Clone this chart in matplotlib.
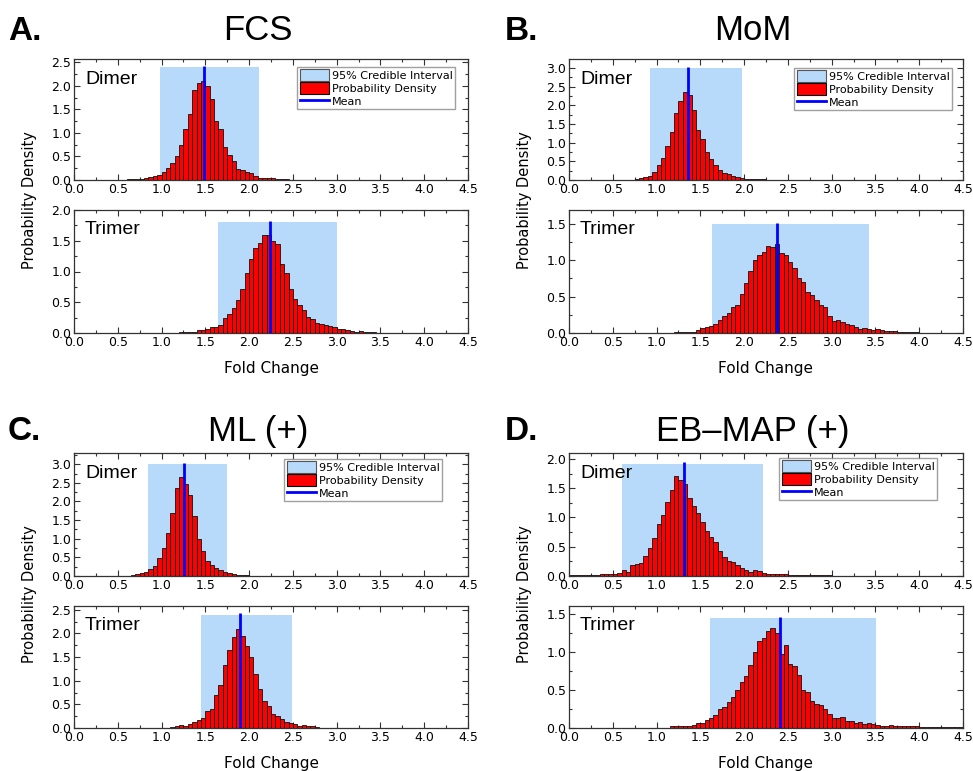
import numpy as np
import matplotlib
matplotlib.use("Agg")
import matplotlib.pyplot as plt
from matplotlib.patches import Patch
from matplotlib.lines import Line2D
from matplotlib.ticker import MultipleLocator, FormatStrFormatter

BIN_WIDTH = 0.05

# ---------------- data (bin start, densities per 0.05 bin) ----------------
fcs_dimer_start = 0.45
fcs_dimer = [0.005, 0.01, 0.01, 0.015, 0.02, 0.02, 0.03, 0.04, 0.06, 0.08, 0.11,
             0.17, 0.25, 0.36, 0.51, 0.75, 1.08, 1.41, 1.92, 2.05, 2.10,
             2.00, 1.72, 1.26, 1.09, 0.71, 0.53, 0.40, 0.23, 0.21, 0.16,
             0.14, 0.09, 0.05, 0.05, 0.04, 0.04, 0.03, 0.02, 0.015, 0.01,
             0.01, 0.005, 0.005, 0.003]
fcs_trimer_start = 1.2
fcs_trimer = [0.01, 0.01, 0.015, 0.02, 0.05, 0.05, 0.07, 0.09, 0.10, 0.13,
              0.24, 0.31, 0.40, 0.54, 0.72, 0.97, 1.20, 1.38, 1.47, 1.60,
              1.60, 1.49, 1.45, 1.12, 0.98, 0.72, 0.56, 0.45, 0.38, 0.26,
              0.23, 0.17, 0.15, 0.13, 0.12, 0.09, 0.07, 0.06, 0.05, 0.04,
              0.02, 0.03, 0.015, 0.015, 0.01, 0.005, 0.005, 0.005, 0.005,
              0.005, 0.005, 0.005]

mom_dimer_start = 0.5
mom_dimer = [0.01, 0.01, 0.01, 0.01, 0.01, 0.03, 0.05, 0.07, 0.11, 0.22,
             0.41, 0.60, 0.92, 1.28, 1.80, 2.12, 2.36, 2.27, 1.87, 1.35,
             1.10, 0.75, 0.57, 0.40, 0.28, 0.20, 0.16, 0.11, 0.08, 0.06,
             0.04, 0.03, 0.02, 0.02, 0.03, 0.01, 0.01, 0.01]
mom_trimer_start = 1.0
mom_trimer = [0.005, 0.005, 0.005, 0.005, 0.01, 0.01, 0.02, 0.02, 0.02, 0.04,
              0.07, 0.08, 0.09, 0.12, 0.18, 0.23, 0.28, 0.36, 0.38, 0.53,
              0.69, 0.85, 1.00, 1.07, 1.11, 1.20, 1.18, 1.22, 1.10, 1.07,
              0.97, 0.89, 0.75, 0.70, 0.56, 0.52, 0.45, 0.38, 0.36, 0.23,
              0.17, 0.18, 0.15, 0.12, 0.11, 0.08, 0.06, 0.07, 0.05, 0.04,
              0.05, 0.04, 0.03, 0.03, 0.03, 0.02, 0.02, 0.01, 0.01, 0.01,
              0.005, 0.005, 0.005, 0.005, 0.005, 0.005]

ml_dimer_start = 0.6
ml_dimer = [0.01, 0.03, 0.05, 0.08, 0.12, 0.18, 0.28, 0.47, 0.75, 1.15,
            1.70, 2.35, 2.65, 2.48, 2.17, 1.62, 0.98, 0.66, 0.40, 0.30,
            0.21, 0.17, 0.12, 0.08, 0.06, 0.04, 0.03, 0.02, 0.01, 0.01]
ml_trimer_start = 1.05
ml_trimer = [0.01, 0.02, 0.04, 0.06, 0.05, 0.08, 0.12, 0.17, 0.22, 0.37,
             0.41, 0.70, 0.91, 1.33, 1.64, 1.93, 2.09, 1.94, 1.73, 1.51,
             1.15, 0.83, 0.58, 0.46, 0.30, 0.25, 0.18, 0.12, 0.11, 0.08,
             0.05, 0.06, 0.05, 0.04, 0.02, 0.01, 0.01, 0.005, 0.005, 0.005,
             0.005]

eb_dimer_start = 0.0
eb_dimer = [0.01, 0.01, 0.01, 0.01, 0.01, 0.01, 0.02, 0.03, 0.03, 0.03,
            0.04, 0.05, 0.10, 0.07, 0.18, 0.20, 0.23, 0.35, 0.47, 0.65,
            0.88, 1.05, 1.27, 1.47, 1.70, 1.64, 1.57, 1.33, 1.20, 1.07,
            0.92, 0.76, 0.67, 0.58, 0.43, 0.33, 0.25, 0.24, 0.19, 0.13,
            0.10, 0.07, 0.10, 0.09, 0.05, 0.04, 0.04, 0.03, 0.03, 0.03,
            0.02, 0.02, 0.01, 0.01, 0.01, 0.01, 0.01, 0.01, 0.01, 0.01,
            0.005, 0.005, 0.005, 0.005]
eb_trimer_start = 1.0
eb_trimer = [0.005, 0.005, 0.005, 0.02, 0.02, 0.02, 0.03, 0.03, 0.04, 0.07,
             0.06, 0.10, 0.13, 0.17, 0.25, 0.27, 0.34, 0.41, 0.50, 0.60,
             0.68, 0.82, 1.00, 1.14, 1.18, 1.27, 1.31, 1.25, 0.97, 1.09,
             0.84, 0.81, 0.70, 0.50, 0.47, 0.36, 0.31, 0.30, 0.25, 0.19,
             0.13, 0.13, 0.14, 0.09, 0.09, 0.07, 0.08, 0.05, 0.06, 0.05,
             0.04, 0.03, 0.02, 0.04, 0.02, 0.02, 0.03, 0.02, 0.02, 0.02,
             0.015, 0.015, 0.015, 0.015, 0.01, 0.01, 0.01, 0.01, 0.01, 0.01]

# means, 95% credible intervals (lo, hi, drawn height)
means = {"fcs_d": 1.48, "fcs_t": 2.24, "mom_d": 1.355, "mom_t": 2.37,
         "ml_d": 1.255, "ml_t": 1.90, "eb_d": 1.31, "eb_t": 2.41}
ci_lo = {"fcs_d": 0.98, "fcs_t": 1.64, "mom_d": 0.92, "mom_t": 1.63,
         "ml_d": 0.84, "ml_t": 1.45, "eb_d": 0.61, "eb_t": 1.61}
ci_hi = {"fcs_d": 2.11, "fcs_t": 3.00, "mom_d": 1.98, "mom_t": 3.43,
         "ml_d": 1.75, "ml_t": 2.49, "eb_d": 2.22, "eb_t": 3.51}
ci_top = {"fcs_d": 2.40, "fcs_t": 1.80, "mom_d": 3.00, "mom_t": 1.50,
          "ml_d": 3.00, "ml_t": 2.40, "eb_d": 1.92, "eb_t": 1.44}
ymax = {"fcs_d": 2.57, "fcs_t": 2.0, "mom_d": 3.24, "mom_t": 1.69,
        "ml_d": 3.30, "ml_t": 2.58, "eb_d": 2.10, "eb_t": 1.60}
ytop_tick = {"fcs_d": 2.5, "fcs_t": 2.0, "mom_d": 3.0, "mom_t": 1.5,
             "ml_d": 3.0, "ml_t": 2.5, "eb_d": 2.0, "eb_t": 1.5}

titles = ["FCS", "MoM", "ML (+)", "EB\u2013MAP (+)"]
letters = ["A.", "B.", "C.", "D."]
keys = ["fcs", "mom", "ml", "eb"]
hist = {"fcs_d": (fcs_dimer_start, fcs_dimer), "fcs_t": (fcs_trimer_start, fcs_trimer),
        "mom_d": (mom_dimer_start, mom_dimer), "mom_t": (mom_trimer_start, mom_trimer),
        "ml_d": (ml_dimer_start, ml_dimer), "ml_t": (ml_trimer_start, ml_trimer),
        "eb_d": (eb_dimer_start, eb_dimer), "eb_t": (eb_trimer_start, eb_trimer)}

# ---------------- layout ----------------
W, H = 973, 771
fig = plt.figure(figsize=(W / 100, H / 100), dpi=100)
TICKFONT = "DejaVu Sans"
CI_COLOR = "#b7dafa"

cols_left = [74, 569]
axw = 394
rows = [(59, 180, 210, 333), (453, 576, 606, 728)]


def px_axes(left, top, bottom):
    return fig.add_axes([left / W, 1 - bottom / H, axw / W, (bottom - top) / H])


def draw(ax, k, label, legend_right_off, legend_top_off):
    start, vals = hist[k]
    vals = np.asarray(vals)
    edges = start + BIN_WIDTH * np.arange(len(vals))
    ax.axvspan(ci_lo[k], ci_hi[k], ymin=0, ymax=ci_top[k] / ymax[k],
               color=CI_COLOR, lw=0, zorder=1)
    ax.bar(edges, vals, width=BIN_WIDTH, align="edge", color="#ff0000",
           edgecolor="#111111", linewidth=0.6, zorder=2)
    ax.vlines(means[k], 0, ci_top[k] * 1.01, color="#0000ff", lw=2, zorder=3)
    ax.set_xlim(0, 4.5)
    ax.set_ylim(0, ymax[k])
    ax.xaxis.set_major_locator(MultipleLocator(0.5))
    ax.xaxis.set_minor_locator(MultipleLocator(0.25))
    ax.set_yticks(np.arange(0, ytop_tick[k] + 0.01, 0.5))
    ax.yaxis.set_minor_locator(MultipleLocator(0.25))
    ax.xaxis.set_major_formatter(FormatStrFormatter("%.1f"))
    ax.yaxis.set_major_formatter(FormatStrFormatter("%.1f"))
    ax.tick_params(which="both", direction="in", top=True, right=True,
                   labelsize=9, pad=2, width=0.8, colors="#333333",
                   labelcolor="black")
    ax.tick_params(which="major", length=4)
    ax.tick_params(which="minor", length=2)
    for lab in ax.get_xticklabels() + ax.get_yticklabels():
        lab.set_family(TICKFONT)
    for s in ax.spines.values():
        s.set_linewidth(0.9)
        s.set_color("#333333")
    ax.text(11 / axw, 1 - 20 / ((ax.get_position().height) * H), label,
            transform=ax.transAxes, ha="left", va="center", fontsize=14,
            family="Liberation Sans")
    if legend_right_off is not None:
        hpx = ax.get_position().height * H
        handles = [Patch(facecolor=CI_COLOR, edgecolor="#555555", lw=0.8),
                   Patch(facecolor="#ff0000", edgecolor="black", lw=0.8),
                   Line2D([0], [0], color="#0000ff", lw=2)]
        leg = ax.legend(handles, ["95% Credible Interval", "Probability Density", "Mean"],
                        loc="upper right",
                        bbox_to_anchor=(1 - legend_right_off / axw, 1 - legend_top_off / hpx),
                        borderaxespad=0, frameon=True, fancybox=False,
                        handlelength=2.6, handleheight=1.2, handletextpad=0.3,
                        labelspacing=0.15, borderpad=0.2, prop={"family": TICKFONT, "size": 8})
        leg.get_frame().set_edgecolor("#888888")
        leg.get_frame().set_linewidth(1.0)
        leg.set_zorder(5)


leg_off = [(13, 8), (11, 9), (26, 6), (26, 5)]
for i, key in enumerate(keys):
    r, c = divmod(i, 2)
    left = cols_left[c]
    dt, db, tt, tb = rows[r]
    axd = px_axes(left, dt, db)
    axt = px_axes(left, tt, tb)
    draw(axd, key + "_d", "Dimer", *leg_off[i])
    draw(axt, key + "_t", "Trimer", None, None)
    axt.set_xlabel("Fold Change", fontsize=11, family=TICKFONT, labelpad=9)
    # shared y label
    yc = (dt + tb) / 2 + 4
    fig.text((left - 44) / W, 1 - yc / H, "Probability Density", rotation=90,
             ha="center", va="center", fontsize=10.5, family=TICKFONT)
    # panel title and letter
    ty = 31 if r == 0 else 432
    tx = 258 if c == 0 else 753
    fig.text(tx / W, 1 - ty / H, titles[i], ha="center", va="center",
             fontsize=25, family="Liberation Sans")
    lx = 8 if c == 0 else 505
    fig.text(lx / W, 1 - ty / H, letters[i], ha="left", va="center",
             fontsize=24, fontweight="bold", family="Liberation Sans")

fig.savefig("out.png", dpi=100)
